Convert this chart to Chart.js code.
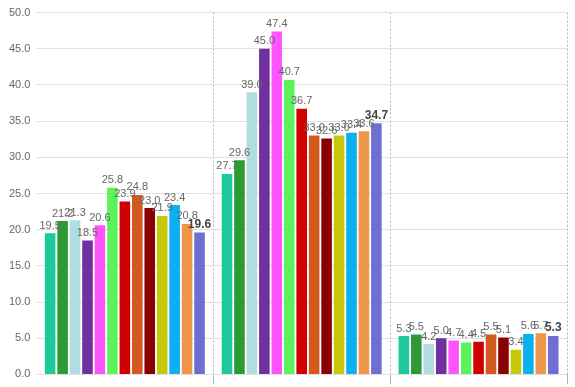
<!DOCTYPE html>
<html>
<head>
<meta charset="utf-8">
<script src="https://cdn.jsdelivr.net/npm/chart.js@4"></script>
<style>
  html, body { margin: 0; padding: 0; background: #fff; }
  #chart { display: block; }
</style>
</head>
<body>
<canvas id="chart" width="575" height="387"></canvas>
<script>
// categories (x labels are not shown in the picture)
const groups = ['Group 1', 'Group 2', 'Group 3'];

// one array per bar colour, values for the three groups
const s1 = [19.5, 27.7, 5.3];
const s2 = [21.2, 29.6, 5.5];
const s3 = [21.3, 39.0, 4.2];
const s4 = [18.5, 45.0, 5.0];
const s5 = [20.6, 47.4, 4.7];
const s6 = [25.8, 40.7, 4.4];
const s7 = [23.9, 36.7, 4.5];
const s8 = [24.8, 33.0, 5.5];
const s9 = [23.0, 32.6, 5.1];
const s10 = [21.9, 33.0, 3.4];
const s11 = [23.4, 33.4, 5.6];
const s12 = [20.8, 33.6, 5.7];
const s13 = [19.6, 34.7, 5.3];

const seriesValues = [s1, s2, s3, s4, s5, s6, s7, s8, s9, s10, s11, s12, s13];
const seriesColors = ['#1ec99b', '#2e9a35', '#b0dde0', '#7030a0', '#ff55ff', '#5cf25c',
                      '#d00000', '#d25a1e', '#8b0000', '#c8c80a', '#0ab0f0', '#f0964b', '#6f6fd2'];

// y axis ticks
const yMin = 0, yMax = 50, yStep = 5;

// draw the value above each bar (last series in bold)
const valueLabels = {
    id: 'valueLabels',
    afterDatasetsDraw(chart) {
        const ctx = chart.ctx;
        ctx.save();
        ctx.textAlign = 'center';
        ctx.textBaseline = 'bottom';
        chart.data.datasets.forEach((ds, i) => {
            const meta = chart.getDatasetMeta(i);
            const last = i === chart.data.datasets.length - 1;
            ctx.font = (last ? 'bold 12px' : '11px') + ' "Liberation Sans", Arial, sans-serif';
            ctx.fillStyle = last ? '#444' : '#666';
            meta.data.forEach((bar, j) => {
                ctx.fillText(ds.data[j].toFixed(1), bar.x, bar.y - 2);
            });
        });
        ctx.restore();
    }
};

const ctx = document.getElementById('chart').getContext('2d');
new Chart(ctx, {
    type: 'bar',
    data: {
        labels: groups,
        datasets: seriesValues.map((vals, i) => ({
            label: 'Series ' + (i + 1),
            data: vals,
            backgroundColor: seriesColors[i],
            borderWidth: 0,
            barPercentage: 0.85,
            categoryPercentage: 0.915
        }))
    },
    options: {
        responsive: false,
        animation: false,
        layout: { padding: { top: -2, right: 8, left: 3, bottom: -6 } },
        plugins: {
            legend: { display: false },
            tooltip: { enabled: false }
        },
        scales: {
            x: {
                border: { display: false, dash: [2, 2] },
                ticks: { display: false, padding: 0 },
                grid: {
                    offset: true,
                    color: ctx => ctx.index === 0 ? 'rgba(0,0,0,0)' : '#b5b5b5',
                    lineWidth: 1,
                    tickLength: 10
                }
            },
            y: {
                min: yMin,
                max: yMax,
                border: { display: false },
                ticks: {
                    stepSize: yStep,
                    padding: 6,
                    color: '#666',
                    font: { family: '"Liberation Sans", Arial, sans-serif', size: 11 },
                    callback: v => v.toFixed(1)
                },
                grid: { color: '#e0e0e0', drawTicks: false }
            }
        }
    },
    plugins: [valueLabels]
});
</script>
</body>
</html>
